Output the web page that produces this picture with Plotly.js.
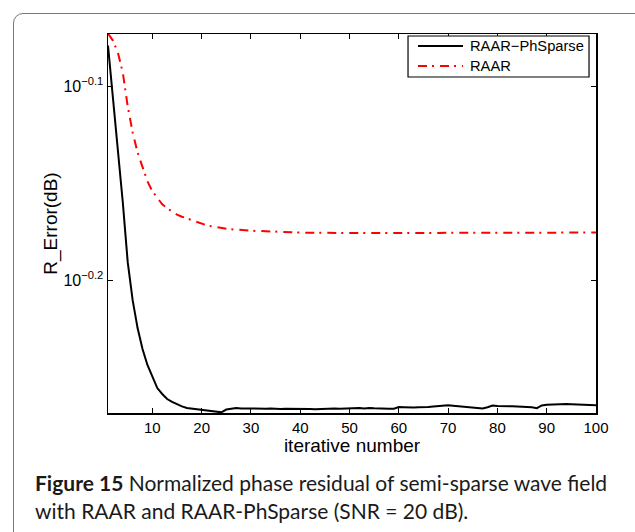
<!DOCTYPE html>
<html>
<head>
<meta charset="utf-8">
<script src="https://cdn.plot.ly/plotly-3.0.1.min.js"></script>
<style>
html,body{margin:0;padding:0;background:#fff;overflow:hidden;}
#wrap{position:relative;width:635px;height:532px;}
#frame{position:absolute;left:13px;top:13px;width:640px;height:560px;border:1px solid #777;border-radius:10px;pointer-events:none;}
#chart{position:absolute;left:0;top:0;width:635px;height:532px;}
</style>
</head>
<body>
<div id="wrap"><div id="chart"></div><div id="frame"></div></div>
<script>
// Iteration numbers
const iterations = Array.from({length: 100}, (_, i) => i + 1);

// RAAR-PhSparse residual
const raarPhSparse = [
  0.8339, 0.7840, 0.7362, 0.6922, 0.6446, 0.6161, 0.5960, 0.5813, 0.5704, 0.5623,
  0.5550, 0.5511, 0.5478, 0.5459, 0.5443, 0.5430, 0.5420, 0.5416, 0.5412, 0.5407,
  0.5403, 0.5400, 0.5396, 0.5392, 0.5410, 0.5415, 0.5420, 0.5417, 0.5416, 0.5417,
  0.5415, 0.5416, 0.5415, 0.5416, 0.5414, 0.5414, 0.5415, 0.5415, 0.5417, 0.5416,
  0.5415, 0.5414, 0.5412, 0.5414, 0.5416, 0.5418, 0.5417, 0.5415, 0.5417, 0.5416,
  0.5417, 0.5419, 0.5417, 0.5420, 0.5418, 0.5416, 0.5417, 0.5415, 0.5415, 0.5426,
  0.5425, 0.5423, 0.5423, 0.5424, 0.5423, 0.5426, 0.5430, 0.5432, 0.5434, 0.5437,
  0.5434, 0.5431, 0.5430, 0.5428, 0.5423, 0.5418, 0.5417, 0.5425, 0.5436, 0.5432,
  0.5433, 0.5430, 0.5431, 0.5429, 0.5428, 0.5429, 0.5425, 0.5419, 0.5436, 0.5440,
  0.5442, 0.5446, 0.5447, 0.5446, 0.5444, 0.5443, 0.5442, 0.5440, 0.5439, 0.5437
];

// RAAR residual
const raar = [
  0.8459, 0.8389, 0.8270, 0.8076, 0.7757, 0.7521, 0.7345, 0.7215, 0.7096, 0.7013,
  0.6955, 0.6905, 0.6873, 0.6844, 0.6820, 0.6804, 0.6791, 0.6775, 0.6759, 0.6747,
  0.6735, 0.6727, 0.6719, 0.6713, 0.6708, 0.6703, 0.6699, 0.6695, 0.6693, 0.6692,
  0.6690, 0.6688, 0.6687, 0.6685, 0.6684, 0.6682, 0.6680, 0.6679, 0.6678, 0.6677,
  0.6676, 0.6676, 0.6675, 0.6675, 0.6675, 0.6674, 0.6674, 0.6674, 0.6674, 0.6673,
  0.6673, 0.6673, 0.6673, 0.6673, 0.6672, 0.6672, 0.6672, 0.6672, 0.6672, 0.6672,
  0.6672, 0.6672, 0.6672, 0.6672, 0.6672, 0.6672, 0.6672, 0.6672, 0.6672, 0.6672,
  0.6672, 0.6672, 0.6672, 0.6672, 0.6672, 0.6672, 0.6672, 0.6672, 0.6672, 0.6673,
  0.6673, 0.6673, 0.6673, 0.6673, 0.6674, 0.6674, 0.6674, 0.6674, 0.6675, 0.6675,
  0.6675, 0.6675, 0.6676, 0.6676, 0.6676, 0.6676, 0.6677, 0.6677, 0.6677, 0.6677
];

const xTickVals = [10, 20, 30, 40, 50, 60, 70, 80, 90, 100];
const yTickExps = [-0.2, -0.1];
const yTickVals = yTickExps.map(e => Math.pow(10, e));
const yTickText = ['10<sup>\u22120.2</sup>', '10<sup>\u22120.1</sup>'];
const seriesNames = ['RAAR\u2212PhSparse', 'RAAR'];
const seriesColors = ['#000000', '#ff0000'];
const seriesDash = ['solid', '9px,5px,2px,6px'];
const captionLines = [
  '<b>Figure 15</b> Normalized phase residual of semi-sparse wave field',
  'with RAAR and RAAR-PhSparse (SNR = 20 dB).'
];

const font = 'Liberation Sans, Arial, Helvetica, sans-serif';
const capFont = 'Lato, sans-serif';

const traces = [raarPhSparse, raar].map((ys, i) => ({
  x: iterations, y: ys, name: seriesNames[i], type: 'scatter', mode: 'lines',
  showlegend: false,
  line: {color: seriesColors[i], width: 2, dash: seriesDash[i]}
}));

// custom legend (box + samples + labels) in paper coordinates
const legBox = {x0: 0.6148, x1: 0.9857, y0: 0.8865, y1: 0.9947};
const legRows = [0.9683, 0.9156];
const shapes = [{type: 'rect', xref: 'paper', yref: 'paper',
  x0: legBox.x0, x1: legBox.x1, y0: legBox.y0, y1: legBox.y1,
  line: {color: '#000', width: 1.2}, fillcolor: '#fff', layer: 'above'}];
const annotations = [];
seriesNames.forEach((n, i) => {
  shapes.push({type: 'line', xref: 'paper', yref: 'paper',
    x0: 0.6352, x1: 0.7275, y0: legRows[i], y1: legRows[i], layer: 'above',
    line: {color: seriesColors[i], width: 2, dash: seriesDash[i]}});
  annotations.push({xref: 'paper', yref: 'paper', x: 0.7378, y: legRows[i],
    xanchor: 'left', yanchor: 'middle', showarrow: false, text: n,
    font: {family: font, size: 14.7, color: '#000'}});
});
const capY = [-0.146, -0.220];
captionLines.forEach((t, i) => {
  annotations.push({xref: 'paper', yref: 'paper', x: -0.153, y: capY[i],
    xanchor: 'left', yanchor: 'top', align: 'left', showarrow: false, text: t,
    font: {family: capFont, size: 21, color: '#1a1a1a'}});
});

const layout = {
  width: 635, height: 532,
  margin: {l: 108, r: 39, t: 34, b: 119, pad: 0},
  paper_bgcolor: '#ffffff', plot_bgcolor: '#ffffff',
  font: {family: font, size: 15, color: '#000'},
  showlegend: false,
  xaxis: {range: [1, 100], tickmode: 'array', tickvals: xTickVals,
          ticks: 'inside', ticklen: 5, tickcolor: '#000', tickwidth: 1,
          showline: true, linecolor: '#000', linewidth: 1.5, mirror: 'ticks',
          showgrid: false, zeroline: false,
          tickfont: {family: font, size: 15, color: '#000'},
          title: {text: 'iterative number', font: {family: font, size: 19, color: '#000'}, standoff: 0}},
  yaxis: {type: 'log', range: [-0.2686, -0.0729], tickmode: 'array',
          tickvals: yTickVals, ticktext: yTickText,
          ticks: 'inside', ticklen: 5, tickcolor: '#000', tickwidth: 1,
          showline: true, linecolor: '#000', linewidth: 1.5, mirror: 'ticks',
          showgrid: false, zeroline: false,
          tickfont: {family: font, size: 16, color: '#000'},
          title: {text: 'R_Error(dB)', font: {family: font, size: 19, color: '#000'}, standoff: 1}},
  shapes: shapes,
  annotations: annotations
};

Plotly.newPlot('chart', traces, layout, {staticPlot: true, displayModeBar: false});
</script>
</body>
</html>
